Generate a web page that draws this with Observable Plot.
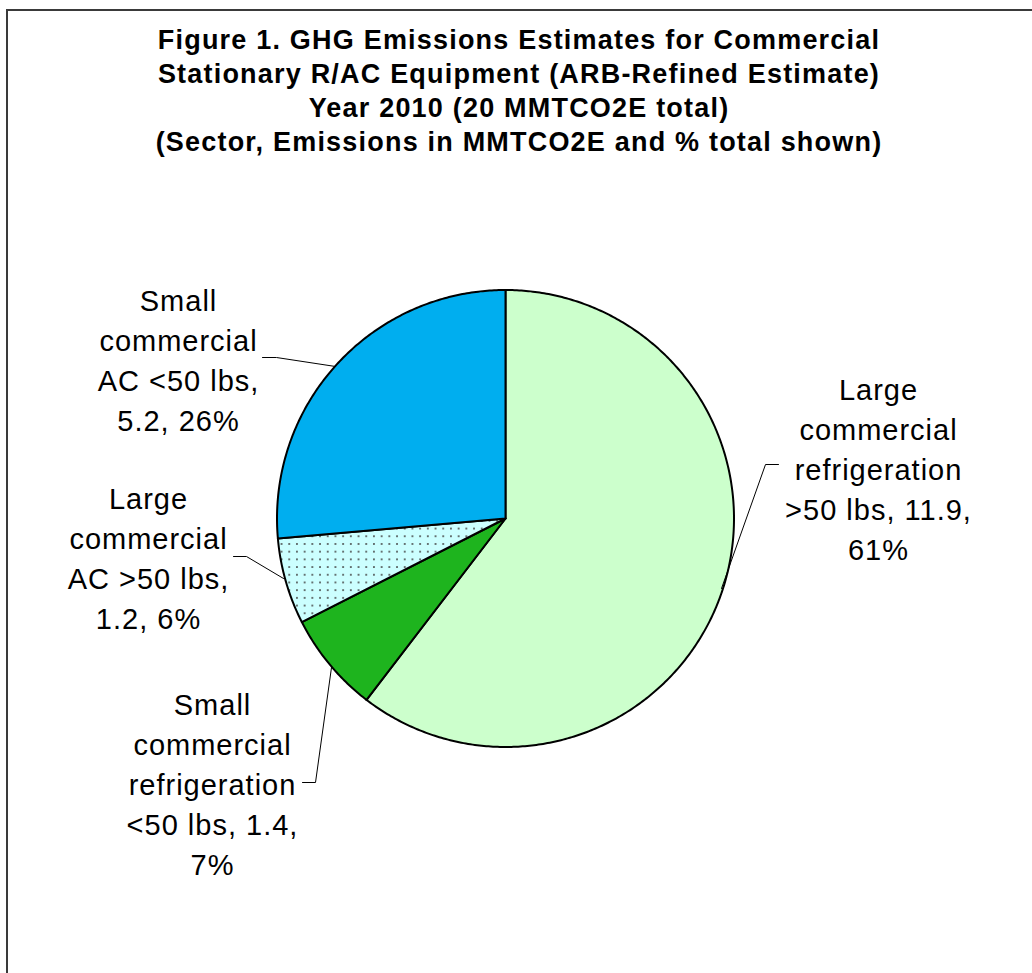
<!DOCTYPE html>
<html><head><meta charset="utf-8">
<script src="https://cdn.jsdelivr.net/npm/d3@7"></script>
<script src="https://cdn.jsdelivr.net/npm/@observablehq/plot@0.6"></script>
<style>
html,body{margin:0;padding:0;background:#fff;overflow:hidden;width:1032px;height:973px;}
#frame{position:absolute;left:6px;top:9px;width:1100px;height:1100px;border:2px solid #3a3a3a;box-sizing:border-box;}
#title{position:absolute;left:8px;top:23px;width:1022px;text-align:center;font-family:"Liberation Sans",Arial,sans-serif;font-weight:bold;font-size:27px;line-height:34px;letter-spacing:1.2px;color:#000;}
#chart{position:absolute;left:0;top:170px;}
.lbl text{letter-spacing:1px;}
</style></head><body>
<div id="frame"></div>
<div id="title">Figure 1. GHG Emissions Estimates for Commercial<br>Stationary R/AC Equipment (ARB-Refined Estimate)<br>Year 2010 (20 MMTCO2E total)<br>(Sector, Emissions in MMTCO2E and % total shown)</div>
<div id="chart"></div>
<script>
// ---- data ----
const sectors = [
  "Large commercial refrigeration >50 lbs",
  "Small commercial refrigeration <50 lbs",
  "Large commercial AC >50 lbs",
  "Small commercial AC <50 lbs"
];
const sectorLines = [
  ["Large", "commercial", "refrigeration", ">50 lbs"],
  ["Small", "commercial", "refrigeration", "<50 lbs"],
  ["Large", "commercial", "AC >50 lbs"],
  ["Small", "commercial", "AC <50 lbs"]
];
const emissions = [11.9, 1.4, 1.2, 5.2];
const percents = [61, 7, 6, 26];

// ---- styles / layout (not data) ----
const fills = ["#CCFFCC", "#1EB41E", "url(#dots)", "#00AEEF"];
const R = 228.5;
const breakAfterValue = [true, true, false, false];
const labelPos = [[373, -51], [-293, 264], [-357, 38], [-327, -160]];
const leaderPos = [
  [[273, -54], [260, -54], [216, 70]],
  [[-203, 264], [-190, 264], [-174, 149]],
  [[-272, 38], [-259, 38], [-222, 60]],
  [[-243, -161], [-229, -161], [-170, -152]]
];

// slices
const pie = d3.pie().sort(null).startAngle(0).endAngle(2 * Math.PI)(emissions);
const slicePts = [];
pie.forEach((p, i) => {
  slicePts.push({sector: sectors[i], x: 0, y: 0});
  const n = Math.max(2, Math.ceil((p.endAngle - p.startAngle) / 0.01));
  for (let k = 0; k <= n; k++) {
    const a = p.startAngle + (p.endAngle - p.startAngle) * k / n;
    slicePts.push({sector: sectors[i], x: R * Math.sin(a), y: -R * Math.cos(a)});
  }
});

const labels = sectors.map((s, i) => {
  const head = sectorLines[i].join("\n");
  const text = breakAfterValue[i]
    ? `${head}, ${emissions[i]},\n${percents[i]}%`
    : `${head},\n${emissions[i]}, ${percents[i]}%`;
  return {sector: s, x: labelPos[i][0], y: labelPos[i][1], text};
});
const leaders = sectors.flatMap((s, i) => leaderPos[i].map(([x, y]) => ({sector: s, x, y})));

const W = 1032, H = 803;
const chart = Plot.plot({
  width: W, height: H, margin: 0,
  style: {background: "transparent", fontFamily: "Liberation Sans, Arial, sans-serif"},
  x: {domain: [-505, 527], range: [0, W], axis: null},
  y: {domain: [-348, 455], range: [0, H], axis: null},
  color: {type: "ordinal", domain: sectors, range: fills},
  marks: [
    Plot.line(slicePts, {x: "x", y: "y", z: "sector", fill: "sector", stroke: "#000", strokeWidth: 2, curve: "linear-closed", strokeLinejoin: "round"}),
    Plot.line(leaders, {x: "x", y: "y", z: "sector", stroke: "#000", strokeWidth: 1}),
    Plot.text(labels, {x: "x", y: "y", text: "text", fontSize: 29, lineHeight: 40 / 29, fill: "#000", className: "lbl"})
  ]
});
const svg = d3.select(chart);
const defs = svg.insert("defs", ":first-child");
const pat = defs.append("pattern").attr("id", "dots").attr("patternUnits", "userSpaceOnUse").attr("width", 7.7).attr("height", 7.7);
pat.append("rect").attr("width", 7.7).attr("height", 7.7).attr("fill", "#CCFFFF");
pat.append("circle").attr("cx", 3.85).attr("cy", 3.85).attr("r", 1).attr("fill", "#444");
document.getElementById("chart").appendChild(chart);
</script>
</body></html>
